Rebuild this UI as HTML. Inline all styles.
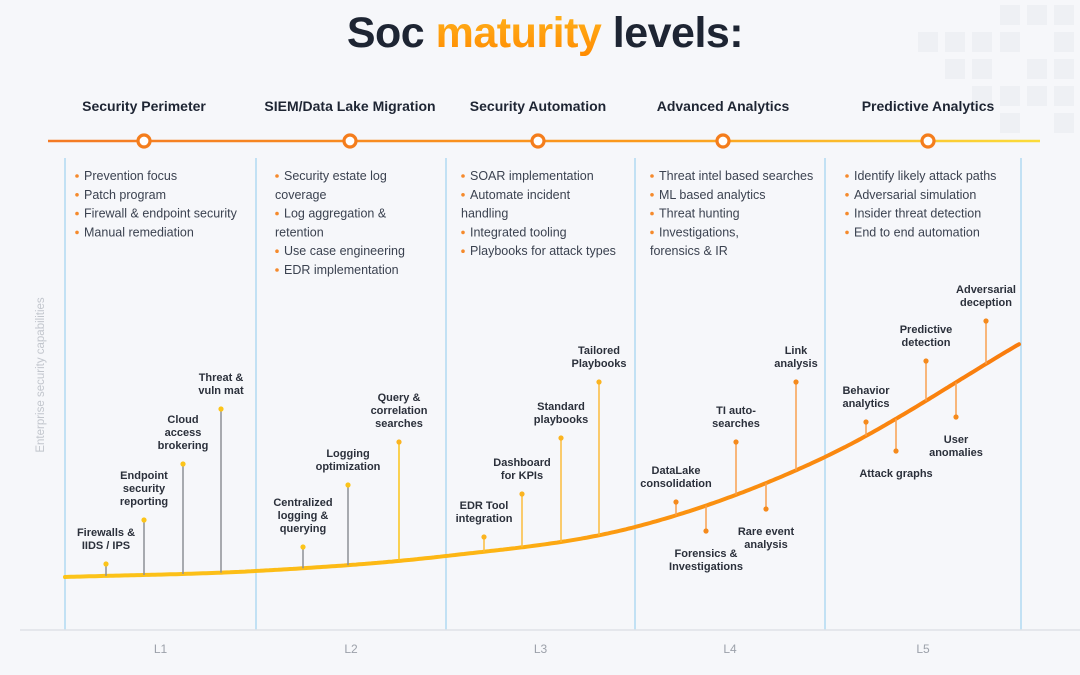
<!DOCTYPE html>
<html><head><meta charset="utf-8"><style>
html,body{margin:0;padding:0;background:#f6f7fa;}
body{width:1080px;height:675px;overflow:hidden;font-family:"Liberation Sans",sans-serif;}
svg{display:block}
</style></head><body>
<svg id="c" width="1080" height="675" viewBox="0 0 1080 675" xmlns="http://www.w3.org/2000/svg">
<defs>
<linearGradient id="tl" gradientUnits="userSpaceOnUse" x1="48" x2="1040" y1="0" y2="0"><stop offset="0" stop-color="#f47a24"/><stop offset="0.6" stop-color="#fb9a1c"/><stop offset="1" stop-color="#fbdc3a"/></linearGradient>
<linearGradient id="cg" gradientUnits="userSpaceOnUse" x1="65" x2="1021" y1="0" y2="0"><stop offset="0" stop-color="#fcc419"/><stop offset="0.45" stop-color="#fdb514"/><stop offset="0.6" stop-color="#fb9510"/><stop offset="1" stop-color="#f97c0e"/></linearGradient>
<linearGradient id="tg" x1="0" x2="0" y1="0" y2="1"><stop offset="0" stop-color="#ffb51e"/><stop offset="1" stop-color="#ff8a00"/></linearGradient>
</defs>
<g id="deco" fill="#eef0f4"></g>
<text x="545" y="47" text-anchor="middle" font-size="43" font-weight="bold" fill="#1e2533" letter-spacing="-0.5">Soc <tspan fill="url(#tg)">maturity</tspan> levels:</text>
<g id="heads"></g>
<line x1="48" y1="141" x2="1040" y2="141" stroke="url(#tl)" stroke-width="2.5"/>
<g id="circles"></g>
<g id="bullets"></g>
<g id="grid"></g>
<line x1="20" y1="630" x2="1080" y2="630" stroke="#dfe2e7" stroke-width="1.5"/>
<text transform="translate(44,375) rotate(-90)" text-anchor="middle" font-size="11.5" fill="#c2c6cd">Enterprise security capabilities</text>
<g id="curve"></g>
<g id="marks"></g>
<g id="xlabels"></g>
</svg>
<script>
const levels = ["L1","L2","L3","L4","L5"];
const headers = ["Security Perimeter","SIEM/Data Lake Migration","Security Automation","Advanced Analytics","Predictive Analytics"];
const boundaries = [65,256,446,635,825,1021];
const curveAnchorsY = [577,571,556,527,457,343];
const markNames = [["Firewalls &","IIDS / IPS"],["Endpoint","security","reporting"],["Cloud","access","brokering"],["Threat &","vuln mat"],
 ["Centralized","logging &","querying"],["Logging","optimization"],["Query &","correlation","searches"],
 ["EDR Tool","integration"],["Dashboard","for KPIs"],["Standard","playbooks"],["Tailored","Playbooks"],
 ["DataLake","consolidation"],["Forensics &","Investigations"],["TI auto-","searches"],["Rare event","analysis"],["Link","analysis"],
 ["Behavior","analytics"],["Attack graphs"],["Predictive","detection"],["User","anomalies"],["Adversarial","deception"]];
const markPos = [106,144,183,221,303,348,399,484,522,561,599,676,706,736,766,796,866,896,926,956,986];
const markDotY = [564,520,464,409,547,485,442,537,494,438,382,502,531,442,509,382,422,451,361,417,321];
const bulletLists = [
 [["Prevention focus"],["Patch program"],["Firewall & endpoint security"],["Manual remediation"]],
 [["Security estate log","coverage"],["Log aggregation &","retention"],["Use case engineering"],["EDR implementation"]],
 [["SOAR implementation"],["Automate incident","handling"],["Integrated tooling"],["Playbooks for attack types"]],
 [["Threat intel based searches"],["ML based analytics"],["Threat hunting"],["Investigations,","forensics & IR"]],
 [["Identify likely attack paths"],["Adversarial simulation"],["Insider threat detection"],["End to end automation"]]
];
const NS="http://www.w3.org/2000/svg";
function mk(t,a,p){const e=document.createElementNS(NS,t);for(const k in a)e.setAttribute(k,a[k]);p.appendChild(e);return e;}
function curveY(x){
 const X=boundaries,Y=curveAnchorsY,n=X.length;
 const d=[],m=[];
 for(let i=0;i<n-1;i++)d.push((Y[i+1]-Y[i])/(X[i+1]-X[i]));
 m[0]=d[0];m[n-1]=d[n-2];
 for(let i=1;i<n-1;i++)m[i]=(d[i-1]+d[i])/2;
 let i=0;while(i<n-2&&x>X[i+1])i++;
 const h=X[i+1]-X[i],t=(x-X[i])/h;
 const h00=2*t*t*t-3*t*t+1,h10=t*t*t-2*t*t+t,h01=-2*t*t*t+3*t*t,h11=t*t*t-t*t;
 return h00*Y[i]+h10*h*m[i]+h01*Y[i+1]+h11*h*m[i+1];
}
const deco=document.getElementById('deco');
[[1000,5],[1027,5],[1054,5],[918,32],[945,32],[972,32],[1000,32],[1054,32],[945,59],[972,59],[1027,59],[1054,59],[972,86],[1000,86],[1027,86],[1054,86],[1000,113],[1054,113]].forEach(p=>{
 const r=mk('rect',{x:p[0],y:p[1],width:20,height:20},deco);
 
 
});
const headX=[144,350,538,723,928];
const bulletX=[75,275,461,650,845];
const heads=document.getElementById('heads'),circ=document.getElementById('circles'),bul=document.getElementById('bullets');
headers.forEach((h,i)=>{
 const t=mk('text',{x:headX[i],y:111,'text-anchor':'middle','font-size':'14','font-weight':'bold',fill:'#1e2533'},heads);
 
 
 t.textContent=h;
 const c=mk('circle',{cx:headX[i],cy:141,r:6,fill:'#fff',stroke:'#f47d1c','stroke-width':3.2},circ);
 
 
 let y=180;
 bulletLists[i].forEach(item=>{
  const d=mk('circle',{cx:bulletX[i]+2,cy:y-4,r:1.8,fill:'#f58a2c'},bul);
  
  
  item.forEach((line,k)=>{
   const tx=mk('text',{x:k===0?bulletX[i]+9:bulletX[i],y:y,'font-size':'12.5',fill:'#3b4250'},bul);
   
   
   tx.textContent=line;y+=18.8;
  });
 });
});
const grid=document.getElementById('grid');
boundaries.forEach(x=>{
 const l=mk('line',{x1:x,y1:158,x2:x,y2:630,stroke:'#9fd3ef','stroke-width':1.2},grid);
 
 
});
const xl=document.getElementById('xlabels');
levels.forEach((L,i)=>{
 const t=mk('text',{x:(boundaries[i]+boundaries[i+1])/2,y:653,'text-anchor':'middle','font-size':'12',fill:'#9ca1aa'},xl);
 
 
 t.textContent=L;
});
let dpath='';
for(let x=boundaries[0];x<=boundaries[5];x+=3)dpath+=(dpath?'L':'M')+x+','+curveY(x).toFixed(1);
const cp=mk('path',{d:dpath,fill:'none',stroke:'url(#cg)','stroke-width':4,'stroke-linecap':'round'},document.getElementById('curve'));


const marks=document.getElementById('marks');
markNames.forEach((nm,i)=>{
 const x=markPos[i],dy=markDotY[i],cy=curveY(x);
 let stem,dot;
 if(i<6){stem='#8d9096';dot='#fcc419';}
 else if(i<11){stem='#fcbc3c';dot='#fbb420';}
 else {stem='#f8a150';dot='#f58a1c';}
 if(i===6){stem='#fcc419';}
 const g=mk('g',{},marks);
 
 
 mk('line',{x1:x,y1:dy,x2:x,y2:cy,stroke:stem,'stroke-width':1.5},g);
 mk('circle',{cx:x,cy:dy,r:2.6,fill:dot},g);
 const below=dy>cy;
 const lh=13;
 nm.forEach((line,k)=>{
  const y=below?dy+26+k*lh:dy-15-(nm.length-1-k)*lh;
  const t=mk('text',{x:x,y:y,'text-anchor':'middle','font-size':'11','font-weight':'bold',fill:'#2b303b'},g);
  
  
  t.textContent=line;
 });
});
</script>
</body></html>
